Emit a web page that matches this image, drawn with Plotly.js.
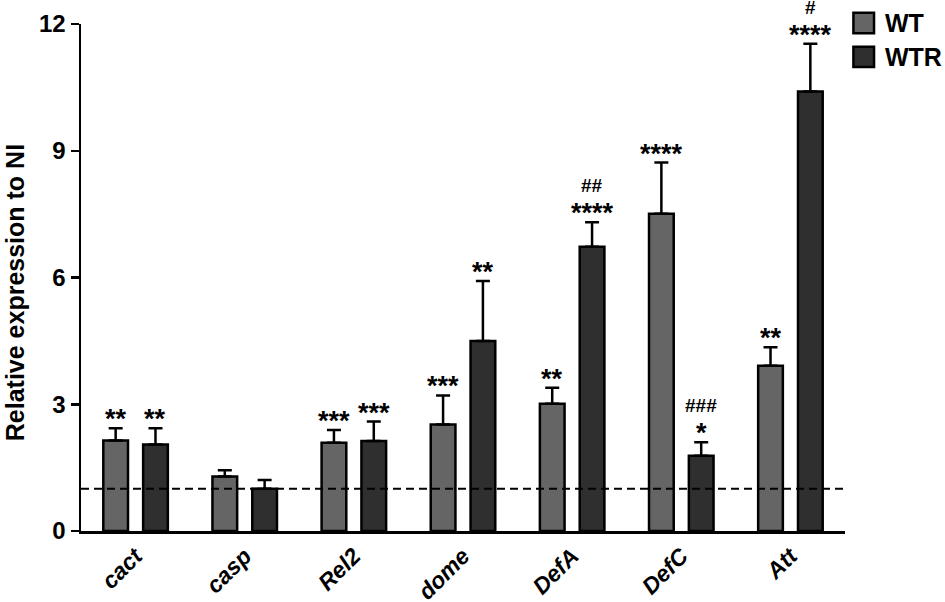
<!DOCTYPE html>
<html>
<head>
<meta charset="utf-8">
<script src="https://cdn.plot.ly/plotly-3.0.1.min.js"></script>
<style>
  body { margin: 0; background: #fff; }
  #chart { width: 945px; height: 602px; }
</style>
</head>
<body>
<div id="chart"></div>
<script>
// genes on the x axis
var genes = ['cact', 'casp', 'Rel2', 'dome', 'DefA', 'DefC', 'Att'];

// mean relative expression and upper SEM
var wtMean = [2.14, 1.29, 2.09, 2.52, 3.01, 7.51, 3.91];
var wtErr  = [0.29, 0.15, 0.30, 0.69, 0.38, 1.21, 0.44];
var wtrMean = [2.05, 1.00, 2.13, 4.50, 6.73, 1.78, 10.40];
var wtrErr  = [0.38, 0.21, 0.46, 1.42, 0.58, 0.32, 1.13];

// significance marks above each bar: [hashes vs WT, stars vs NI]
var wtMarks  = [['', '**'], null, ['', '***'], ['', '***'], ['', '**'], ['', '****'], ['', '**']];
var wtrMarks = [['', '**'], null, ['', '***'], ['', '**'], ['##', '****'], ['###', '*'], ['#', '****']];

var yTicks = [0, 3, 6, 9, 12];
var baseline = 1;

var fontFam = 'Liberation Sans, Arial, sans-serif';
var lineW = 2.5;
var wtColor = '#656565', wtrColor = '#2f2f2f';

function barTrace(name, y, err, color) {
  return {
    type: 'bar',
    name: name,
    x: genes,
    y: y,
    marker: { color: color, line: { color: '#000', width: lineW } },
    error_y: {
      type: 'data', symmetric: false,
      array: err, arrayminus: err.map(function () { return 0; }),
      color: '#000', thickness: lineW, width: 7
    },
    showlegend: false,
    hoverinfo: 'x+y'
  };
}

var data = [
  barTrace('WT', wtMean, wtErr, wtColor),
  barTrace('WTR', wtrMean, wtrErr, wtrColor)
];

// bar layout: group occupies (1-bargap) of a slot, each bar centered at +-quarter of it
var bargap = 0.27;
var off = (1 - bargap) / 4;

var annotations = [];
function addMarks(marks, mean, err, dx) {
  marks.forEach(function (m, i) {
    if (!m) return;
    var top = mean[i] + err[i];
    annotations.push({
      x: i + dx, y: top, xref: 'x', yref: 'y',
      text: m[1], showarrow: false, yanchor: 'bottom', yshift: -8,
      font: { family: fontFam, size: 27, color: '#000', weight: 'bold' }
    });
    if (m[0]) {
      annotations.push({
        x: i + dx, y: top, xref: 'x', yref: 'y',
        text: m[0], showarrow: false, yanchor: 'bottom', yshift: 24,
        font: { family: fontFam, size: 19, color: '#000', weight: 'bold' }
      });
    }
  });
}
addMarks(wtMarks, wtMean, wtErr, -off);
addMarks(wtrMarks, wtrMean, wtrErr, off);

// y title as an annotation so it can sit a little below centre like the original
annotations.push({
  xref: 'paper', yref: 'paper', x: -0.087, y: 0.47,
  xanchor: 'center', yanchor: 'middle', textangle: -90, showarrow: false,
  text: 'Relative expression to NI',
  font: { family: fontFam, size: 25, color: '#000', weight: 'bold' }
});

// hand-drawn legend, top right
var legendItems = [['WT', wtColor], ['WTR', wtrColor]];
var shapes = [{
  type: 'line', xref: 'paper', x0: 0, x1: 1, yref: 'y', y0: baseline, y1: baseline,
  line: { color: '#000', width: 2, dash: '8px,5px' }
}];
legendItems.forEach(function (it, k) {
  var top = 1.022 - k * 0.067;
  shapes.push({
    type: 'rect', xref: 'paper', yref: 'paper',
    x0: 1.011, x1: 1.038, y0: top - 0.04, y1: top,
    fillcolor: it[1], line: { color: '#000', width: 2.5 }
  });
  annotations.push({
    xref: 'paper', yref: 'paper', x: 1.05, y: top - 0.02,
    xanchor: 'left', yanchor: 'middle', showarrow: false, text: it[0],
    font: { family: fontFam, size: 25, color: '#000', weight: 'bold' }
  });
});

var layout = {
  width: 945,
  height: 602,
  margin: { l: 81, r: 100, t: 24, b: 71 },
  paper_bgcolor: '#fff',
  plot_bgcolor: '#fff',
  barmode: 'group',
  bargap: bargap,
  bargroupgap: 0.38,
  font: { family: fontFam, color: '#000' },
  xaxis: {
    type: 'category',
    range: [-0.5, genes.length - 0.5],
    showline: true, linecolor: '#000', linewidth: lineW,
    ticks: '', showgrid: false, zeroline: false,
    tickangle: -45,
    tickfont: { family: fontFam, size: 23, weight: 'bold', style: 'italic', color: '#000' }
  },
  yaxis: {
    range: [0, 12],
    tickvals: yTicks,
    showline: true, linecolor: '#000', linewidth: lineW,
    ticks: 'outside', ticklen: 8, tickwidth: lineW, tickcolor: '#000',
    showgrid: false, zeroline: false,
    tickfont: { family: fontFam, size: 24, weight: 'bold', color: '#000' }
  },
  shapes: shapes,
  annotations: annotations
};

Plotly.newPlot('chart', data, layout, { displayModeBar: false, staticPlot: true });
</script>
</body>
</html>
